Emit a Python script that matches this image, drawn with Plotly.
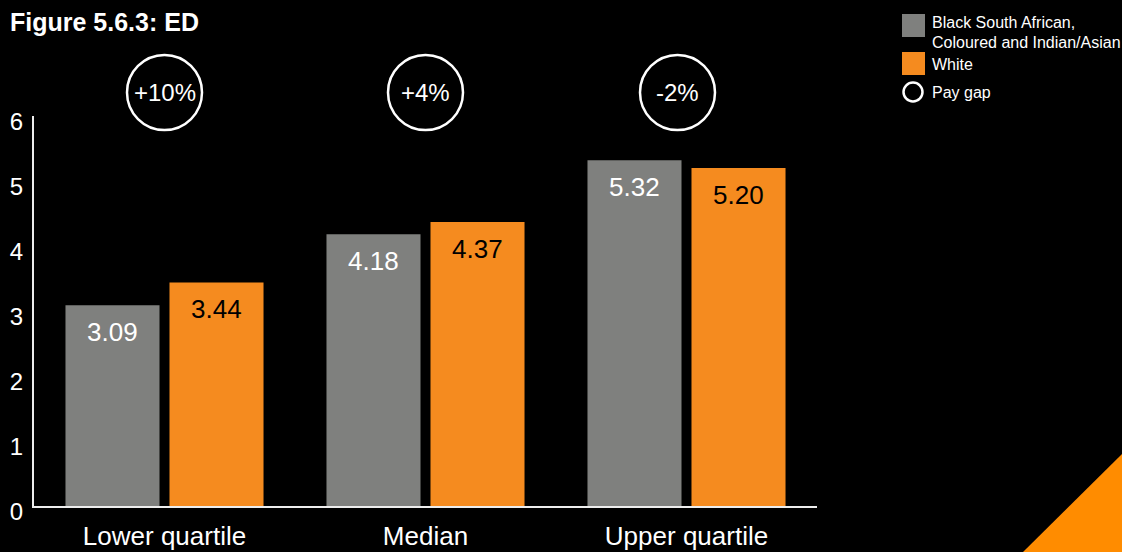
import plotly.graph_objects as go

# Chart data
categories = ["Lower quartile", "Median", "Upper quartile"]
bsa_coloured_indian = [3.09, 4.18, 5.32]
white = [3.44, 4.37, 5.20]
pay_gap = ["+10%", "+4%", "-2%"]
y_ticks = [0, 1, 2, 3, 4, 5, 6]

# Styling / layout
W, H = 1122, 552
M_L, M_R, M_T, M_B = 34, 305, 116, 46
PLOT_W = W - M_L - M_R
PLOT_H = H - M_T - M_B
GREY = "#7F807E"
ORANGE = "#F58B1F"
ACCENT = "#FF8C00"
AXIS = "#EDEDED"
FONT = "Liberation Sans, Arial, Helvetica, sans-serif"
BARGAP = 0.203
BARGROUPGAP = 0.096
gap_circle_shift_px = [0, 0, -9]


def px(x):
    """Window pixel x -> paper coordinate."""
    return (x - M_L) / PLOT_W


def py(y):
    """Window pixel y -> paper coordinate."""
    return (H - M_B - y) / PLOT_H


fig = go.Figure()
fig.add_trace(go.Bar(x=categories, y=bsa_coloured_indian, name="Black South African, Coloured and Indian/Asian",
                     marker=dict(color=GREY, line=dict(width=0)), showlegend=False, hoverinfo="skip"))
fig.add_trace(go.Bar(x=categories, y=white, name="White",
                     marker=dict(color=ORANGE, line=dict(width=0)), showlegend=False, hoverinfo="skip"))

# centre offset of each bar within its group, in category units
slot = (1 - BARGAP) / 2
offsets = [-slot / 2, slot / 2]

annotations = []
for i, cat in enumerate(categories):
    for series, off, col in ((bsa_coloured_indian, offsets[0], "white"), (white, offsets[1], "black")):
        annotations.append(dict(x=i + off, y=series[i], xref="x", yref="y", text=f"{series[i]:.2f}",
                                showarrow=False, yanchor="middle", yshift=-27,
                                font=dict(family=FONT, size=26, color=col)))
    annotations.append(dict(x=i, y=py(92.5), xref="x", yref="paper", text=pay_gap[i], showarrow=False,
                            xshift=gap_circle_shift_px[i], yanchor="middle",
                            font=dict(family=FONT, size=24, color="white")))

shapes = []
for i in range(len(categories)):
    r = 37.5
    shapes.append(dict(type="circle", xref="x", yref="paper", xsizemode="pixel", ysizemode="pixel",
                       xanchor=i, yanchor=py(92.5),
                       x0=gap_circle_shift_px[i] - r, x1=gap_circle_shift_px[i] + r, y0=-r, y1=r,
                       line=dict(color="white", width=2.5), fillcolor="rgba(0,0,0,0)"))

# title
annotations.append(dict(x=px(8), y=py(22), xref="paper", yref="paper", text="<b>Figure 5.6.3: ED</b>",
                        showarrow=False, xanchor="left", yanchor="middle",
                        font=dict(family=FONT, size=25, color="white")))

# legend
shapes.append(dict(type="rect", xref="paper", yref="paper", x0=px(902), x1=px(925), y0=py(37), y1=py(14),
                   fillcolor=GREY, line=dict(width=0)))
shapes.append(dict(type="rect", xref="paper", yref="paper", x0=px(902), x1=px(925), y0=py(75), y1=py(52),
                   fillcolor=ORANGE, line=dict(width=0)))
shapes.append(dict(type="circle", xref="paper", yref="paper", x0=px(903.5), x1=px(922.5), y0=py(101.5), y1=py(82.5),
                   line=dict(color="white", width=2.5), fillcolor="rgba(0,0,0,0)"))
for text, yc in (("Black South African,", 22.5), ("Coloured and Indian/Asian", 42.5), ("White", 64), ("Pay gap", 92.5)):
    annotations.append(dict(x=px(930), y=py(yc), xref="paper", yref="paper", text=text, showarrow=False,
                            xanchor="left", yanchor="middle", font=dict(family=FONT, size=16, color="white")))

# corner accent
shapes.append(dict(type="path", xref="paper", yref="paper",
                   path=f"M {px(1023)} {py(552)} L {px(1122)} {py(454)} L {px(1122)} {py(552)} Z",
                   fillcolor=ACCENT, line=dict(width=0)))

fig.update_layout(
    width=W, height=H,
    margin=dict(l=M_L, r=M_R, t=M_T, b=M_B, pad=0, autoexpand=False),
    paper_bgcolor="black", plot_bgcolor="black",
    barmode="group", bargap=BARGAP, bargroupgap=BARGROUPGAP,
    font=dict(family=FONT, color="white"),
    showlegend=False,
    annotations=annotations,
    shapes=shapes,
)
fig.update_xaxes(showgrid=False, zeroline=False, showline=True, linecolor=AXIS, linewidth=2, automargin=False,
                 ticks="", tickfont=dict(family=FONT, size=26, color="white"), ticklabelstandoff=6,
                 range=[-0.5, 2.5], fixedrange=True)
fig.update_yaxes(showgrid=False, zeroline=False, showline=True, linecolor=AXIS, linewidth=2, automargin=False,
                 ticks="", tickvals=y_ticks, tickfont=dict(family=FONT, size=24, color="white"),
                 ticklabelstandoff=4, ticklabelshift=6, range=[0, 6], fixedrange=True)

fig.write_html("out.html", config={"displayModeBar": False})
